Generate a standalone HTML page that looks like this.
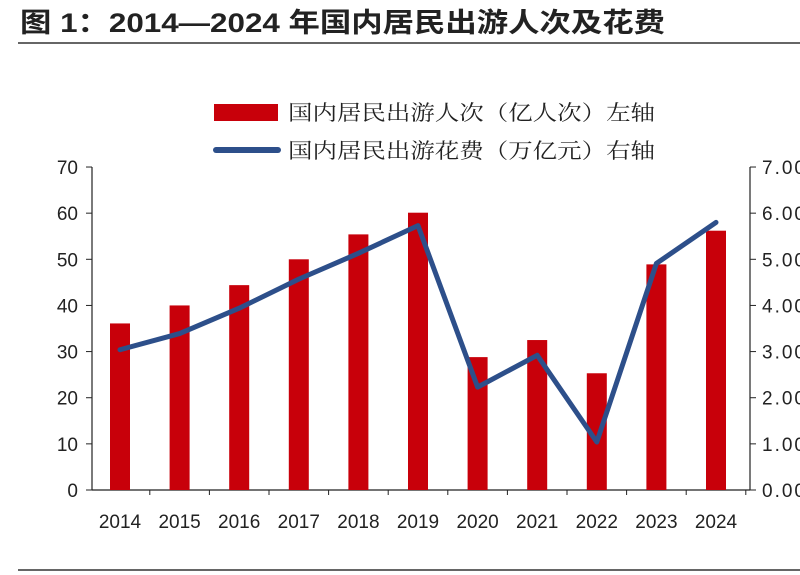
<!DOCTYPE html>
<html><head><meta charset="utf-8"><style>
body{margin:0;background:#fff;width:800px;height:575px;overflow:hidden}
svg{display:block}
</style></head><body>
<svg width="800" height="575" xmlns="http://www.w3.org/2000/svg" font-family="Liberation Sans, Noto Sans CJK SC, sans-serif">
<text x="20" y="32" font-size="27" font-weight="bold" fill="#222" textLength="645" lengthAdjust="spacingAndGlyphs" font-family="Liberation Sans, Noto Sans CJK SC, sans-serif">图 1：2014—2024 年国内居民出游人次及花费</text>
<line x1="18" y1="43" x2="800" y2="43" stroke="#333" stroke-width="1.5"/>
<line x1="18" y1="570" x2="800" y2="570" stroke="#333" stroke-width="1.5"/>
<rect x="214" y="104" width="64" height="17" fill="#c8000a"/>
<text x="288" y="120" font-size="21" fill="#222" textLength="367" lengthAdjust="spacingAndGlyphs" font-family="Noto Serif CJK SC, serif">国内居民出游人次（亿人次）左轴</text>
<line x1="216" y1="150" x2="278" y2="150" stroke="#2d4f8a" stroke-width="6" stroke-linecap="round"/>
<text x="288" y="158" font-size="21" fill="#222" textLength="367" lengthAdjust="spacingAndGlyphs" font-family="Noto Serif CJK SC, serif">国内居民出游花费（万亿元）右轴</text>
<g stroke="#222" stroke-width="1.2">
<line x1="92" y1="167" x2="92" y2="490"/>
<line x1="750" y1="167" x2="750" y2="490"/>
<line x1="92" y1="490" x2="750" y2="490"/>
</g>
<g id="bars" fill="#c8000a"></g>
<g id="ax" font-size="19" fill="#222"></g>
<polyline id="ln" fill="none" stroke="#2d4f8a" stroke-width="5" stroke-linejoin="round" stroke-linecap="round"/>
<script>
var b=[36.1,40,44.4,50,55.4,60.1,28.8,32.5,25.3,48.9,56.2],l=[3.04,3.39,3.94,4.57,5.13,5.73,2.23,2.92,1.04,4.91,5.8];
var ns="http://www.w3.org/2000/svg",g=document.getElementById('bars'),a=document.getElementById('ax'),pts=[];
function el(t,at,p,tx){var e=document.createElementNS(ns,t);for(var k in at)e.setAttribute(k,at[k]);if(tx)e.textContent=tx;p.appendChild(e);}
for(var i=0;i<11;i++){var cx=120+i*59.6,h=b[i]*4.614;
el('rect',{x:cx-10,y:490-h,width:20,height:h},g);
pts.push(cx+','+(490-l[i]*46.14));
el('text',{x:cx,y:528,'text-anchor':'middle'},a,String(2014+i));
el('line',{x1:cx+29.8,y1:490,x2:cx+29.8,y2:495,stroke:'#222'},a);}
for(var j=0;j<=7;j++){var y=490-j*46.14;
el('text',{x:78,y:y+7,'text-anchor':'end'},a,String(j*10));
el('line',{x1:86,y1:y,x2:92,y2:y,stroke:'#222'},a);
el('line',{x1:750,y1:y,x2:756,y2:y,stroke:'#222'},a);
el('text',{x:762,y:y+7,'letter-spacing':'2'},a,j+'.00');}
document.getElementById('ln').setAttribute('points',pts.join(' '));
</script>
</svg>
</body></html>
